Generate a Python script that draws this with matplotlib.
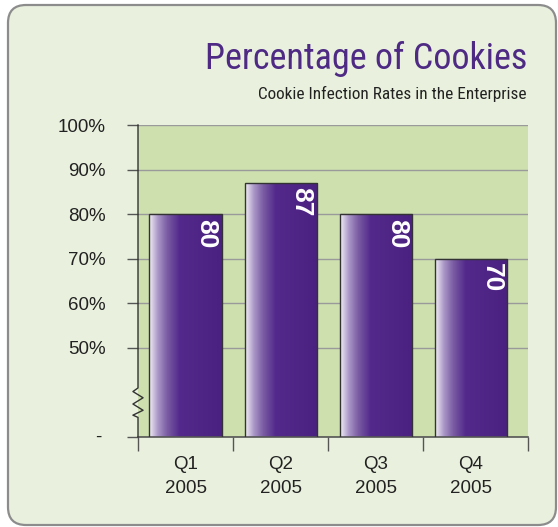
import os
import matplotlib.pyplot as plt
import numpy as np
from matplotlib import font_manager as fm
from matplotlib.colors import LinearSegmentedColormap
from matplotlib.patches import FancyBboxPatch
from matplotlib.transforms import blended_transform_factory

quarters = ['Q1\n2005', 'Q2\n2005', 'Q3\n2005', 'Q4\n2005']
rates = [80, 87, 80, 70]
y_ticks = [50, 60, 70, 80, 90, 100]
y_labels = ['50%', '60%', '70%', '80%', '90%', '100%']

plt.rcParams['font.family'] = ['Liberation Sans', 'DejaVu Sans']


def narrow_font():
    # look for a condensed regular sans for the headline text
    bad = ('Bold', 'Italic', 'Light', 'Thin', 'Black', 'Medium', 'Semi',
           'Extra', 'Oblique', 'Heavy')
    order = ['LiberationSansNarrow', 'RobotoCondensed', 'NotoSans-', 'OpenSans', 'DejaVuSans']
    for key in order:
        for f in fm.fontManager.ttflist:
            base = os.path.basename(f.fname)
            if base.startswith(key) and ('Condensed' in base or 'Narrow' in base) \
                    and not any(w in base for w in bad):
                return fm.FontProperties(fname=f.fname)
    return fm.FontProperties(family='Liberation Sans')


fig = plt.figure(figsize=(5.58, 5.27), dpi=100)
fig.patch.set_facecolor('white')

# rounded panel behind everything
panel = FancyBboxPatch((0.08, 0.02), 5.48, 5.20,
                       boxstyle='round,pad=0,rounding_size=0.18',
                       transform=fig.dpi_scale_trans, zorder=-1,
                       facecolor='#e9f1de', edgecolor='#8c8c8c', linewidth=1.6)
fig.patches.append(panel)

ax = fig.add_axes([138 / 558, 1 - 437 / 527, 390 / 558, 312 / 527])
ax.set_facecolor('#cde0ae')
ax.set_xlim(-0.5, 3.6)
ax.set_ylim(30, 100)
y_floor = ax.get_ylim()[0]

x = np.arange(len(rates))
bar_w = 0.76

# gradient fill: light lavender at the left edge to dark purple
cmap = LinearSegmentedColormap.from_list(
    'barfade', [(0, '#f3f0f7'), (0.12, '#ab98c8'), (0.25, '#7a5ca3'),
                (0.42, '#53298b'), (1, '#4a2180')])
grad = np.linspace(0, 1, 256).reshape(1, -1)

bars = ax.bar(x, rates, width=bar_w, facecolor='none',
              edgecolor='#333333', linewidth=1, zorder=3)
for b in bars:
    x0 = b.get_x()
    im = ax.imshow(grad, cmap=cmap, aspect='auto', zorder=2.5,
                   extent=(x0, x0 + b.get_width(), y_floor, b.get_height()))
    im.set_clip_path(b)

for xi, v in zip(x, rates):
    ax.text(xi + 0.22, v - 1.0, str(v), rotation=270, ha='center', va='top',
            color='white', fontsize=19, fontweight='bold', zorder=4)

ax.set_axisbelow(True)
ax.set_yticks([30] + y_ticks)
ax.set_yticklabels([''] + y_labels)
ax.yaxis.grid(True, color='#9a9a9a', linewidth=1)
ax.tick_params(axis='y', length=8, width=1, color='#555555', pad=15,
               labelsize=13.5, labelcolor='#222222')

ax.set_xticks([-0.5, 0.5, 1.5, 2.5, 3.6])
ax.set_xticklabels([])
ax.set_xticks(x, minor=True)
ax.set_xticklabels(quarters, minor=True, fontsize=13.5, color='#222222',
                   linespacing=1.5)
ax.tick_params(axis='x', which='major', length=10, width=1, color='#555555')
ax.tick_params(axis='x', which='minor', length=0, pad=14)

for s in ['top', 'right', 'left']:
    ax.spines[s].set_visible(False)
ax.spines['bottom'].set_color('#555555')
ax.spines['bottom'].set_linewidth(1.2)

# left axis line with the break zigzag
tr = blended_transform_factory(ax.transAxes, ax.transData)
a = 0.013
zx = [0, 0, -a, a, -a, a, -a, 0, 0]
zy = [100, 41.0, 40.2, 38.8, 37.4, 36.0, 34.9, 34.4, 30]
ax.plot(zx, zy, color='#333333', linewidth=1, transform=tr,
        clip_on=False, zorder=5)

fig.text(98 / 558, 1 - 437 / 527, '-', ha='center', va='center',
         fontsize=13.5, color='#222222')

nf = narrow_font()
title = fig.text(527 / 558, 1 - 69 / 527, 'Percentage of Cookies', ha='right',
                 va='baseline', color='#4e2a84', fontproperties=nf)
title.set_fontsize(29)
sub = fig.text(527 / 558, 1 - 99 / 527, 'Cookie Infection Rates in the Enterprise',
               ha='right', va='baseline', color='#222222', fontproperties=nf)
sub.set_fontsize(14)

# fit the headline widths to the original layout
fig.canvas.draw()
r = fig.canvas.get_renderer()
for t, target in [(title, 324), (sub, 270)]:
    w = t.get_window_extent(r).width
    t.set_fontsize(t.get_fontsize() * target / w)

fig.savefig('out.png', dpi=100)
